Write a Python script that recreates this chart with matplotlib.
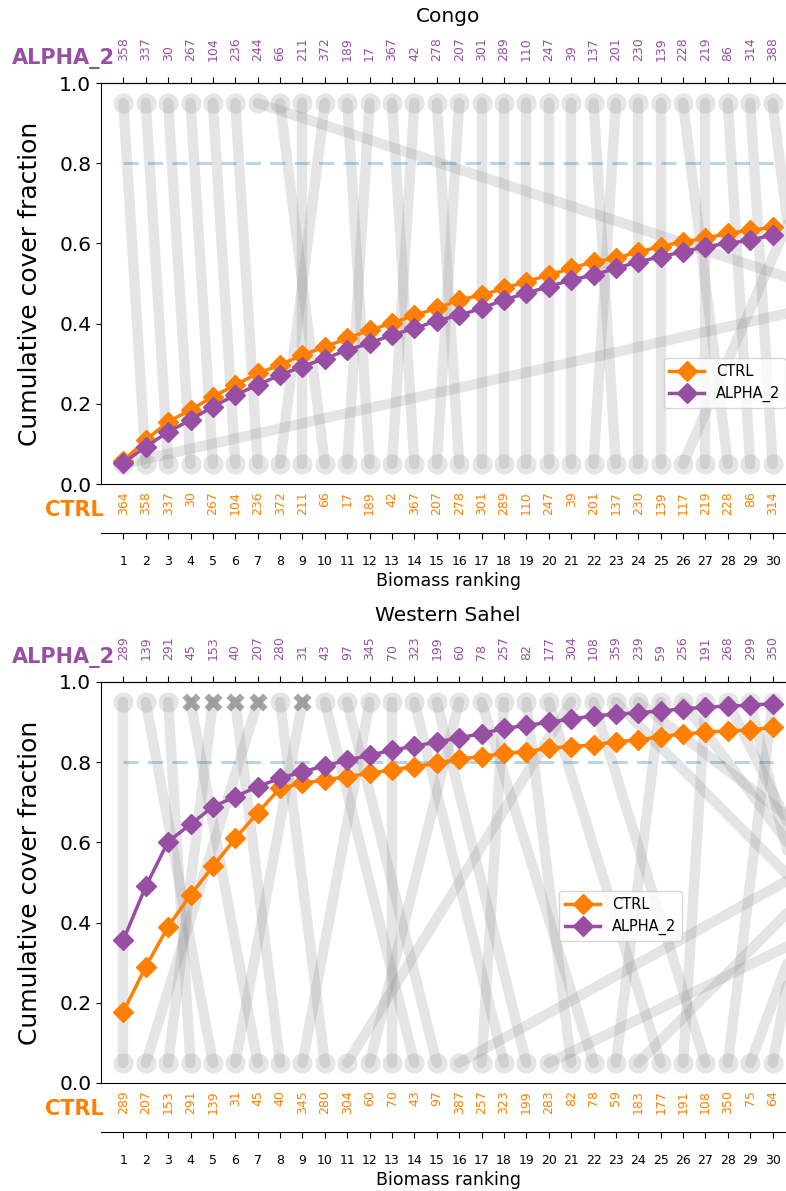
import matplotlib.pyplot as plt
import numpy as np

# ---- data ----
ranks = np.arange(1, 31)

congo_ctrl_ids = [364, 358, 337, 30, 267, 104, 236, 372, 211, 66, 17, 189, 42, 367, 207,
                  278, 301, 289, 110, 247, 39, 201, 137, 230, 139, 117, 219, 228, 86, 314]
congo_alpha_ids = [358, 337, 30, 267, 104, 236, 244, 66, 211, 372, 189, 17, 367, 42, 278,
                   207, 301, 289, 110, 247, 39, 137, 201, 230, 139, 228, 219, 86, 314, 388]
congo_ctrl_cover = [0.058, 0.110, 0.155, 0.185, 0.218, 0.247, 0.276, 0.297, 0.322, 0.342,
                    0.363, 0.384, 0.401, 0.421, 0.438, 0.459, 0.471, 0.488, 0.505, 0.521,
                    0.538, 0.554, 0.563, 0.579, 0.592, 0.604, 0.613, 0.625, 0.633, 0.640]
congo_alpha_cover = [0.053, 0.093, 0.130, 0.160, 0.193, 0.222, 0.247, 0.272, 0.293, 0.313,
                     0.334, 0.351, 0.372, 0.388, 0.407, 0.421, 0.438, 0.459, 0.476, 0.492,
                     0.509, 0.521, 0.538, 0.554, 0.567, 0.579, 0.592, 0.600, 0.608, 0.621]
# ranks beyond the top 30 in the other run
congo_ctrl_outside = {364: 72, 117: 33}
congo_alpha_outside = {244: 56, 388: 32}
congo_crossed = []

sahel_ctrl_ids = [289, 207, 153, 291, 139, 31, 45, 40, 345, 280, 304, 60, 70, 43, 97,
                  387, 257, 323, 199, 283, 82, 78, 59, 183, 177, 191, 108, 350, 75, 64]
sahel_alpha_ids = [289, 139, 291, 45, 153, 40, 207, 280, 31, 43, 97, 345, 70, 323, 199,
                   60, 78, 257, 82, 177, 304, 108, 359, 239, 59, 256, 191, 268, 299, 350]
sahel_ctrl_cover = [0.178, 0.290, 0.390, 0.469, 0.540, 0.610, 0.674, 0.735, 0.747, 0.756,
                    0.764, 0.772, 0.781, 0.789, 0.797, 0.808, 0.814, 0.822, 0.826, 0.835,
                    0.839, 0.843, 0.851, 0.855, 0.864, 0.870, 0.875, 0.878, 0.880, 0.887]
sahel_alpha_cover = [0.357, 0.490, 0.602, 0.645, 0.689, 0.714, 0.739, 0.760, 0.776, 0.791,
                     0.805, 0.817, 0.830, 0.840, 0.850, 0.861, 0.871, 0.884, 0.892, 0.899,
                     0.908, 0.915, 0.920, 0.923, 0.928, 0.933, 0.937, 0.940, 0.942, 0.946]
sahel_ctrl_outside = {387: 45, 283: 53, 183: 40, 75: 35, 64: 33}
sahel_alpha_outside = {359: 39, 239: 45, 256: 38, 268: 36, 299: 33}
sahel_crossed = [45, 153, 40, 207, 31]

ORANGE = "#ff7f00"
PURPLE = "#984ea3"


def draw_panel(ax, title, ctrl_ids, alpha_ids, ctrl_cover, alpha_cover,
               ctrl_out, alpha_out, crossed):
    y_lo, y_hi = 0.05, 0.95
    line_kw = dict(color="grey", alpha=0.2, lw=7.5, solid_capstyle="round", zorder=1)

    # grey connectors: CTRL rank (bottom) -> ALPHA_2 rank (top)
    for i, sid in enumerate(ctrl_ids, 1):
        j = alpha_ids.index(sid) + 1 if sid in alpha_ids else ctrl_out[sid]
        ax.plot([i, j], [y_lo, y_hi], **line_kw)
    for j, sid in enumerate(alpha_ids, 1):
        if sid not in ctrl_ids:
            ax.plot([alpha_out[sid], j], [y_lo, y_hi], **line_kw)

    ax.scatter(ranks, np.full(30, y_lo), s=210, color="grey", alpha=0.2, lw=0, zorder=1)
    keep = np.array([sid not in crossed for sid in alpha_ids])
    ax.scatter(ranks[keep], np.full(keep.sum(), y_hi), s=210, color="grey",
               alpha=0.2, lw=0, zorder=1)
    if (~keep).any():
        ax.scatter(ranks[~keep], np.full((~keep).sum(), y_hi), s=170, marker="X",
                   color="grey", alpha=0.7, lw=0, zorder=2)

    ax.plot([1, 30], [0.8, 0.8], ls=(0, (5, 3)), lw=2.2, color="#1f77b4", alpha=0.3, zorder=2)

    ax.plot(ranks, ctrl_cover, color=ORANGE, marker="D", ms=10, lw=2.5, label="CTRL", zorder=3)
    ax.plot(ranks, alpha_cover, color=PURPLE, marker="D", ms=10, lw=2.5, label="ALPHA_2", zorder=4)

    ax.set_xlim(0, 31)
    ax.set_ylim(0, 1)
    ax.set_yticks(np.arange(0, 1.01, 0.2))
    ax.tick_params(axis="y", labelsize=14.5)
    ax.set_ylabel("Cumulative cover fraction", fontsize=18, labelpad=12)

    # CTRL ids along the bottom
    ax.set_xticks(ranks)
    ax.set_xticklabels(ctrl_ids, rotation=90, color=ORANGE, fontsize=9)
    ax.tick_params(axis="x", length=0, pad=5)

    # ALPHA_2 ids along the top
    top = ax.secondary_xaxis("top")
    top.set_xticks(ranks)
    top.set_xticklabels(alpha_ids, rotation=90, color=PURPLE, fontsize=9)
    top.tick_params(axis="x", length=4, pad=12)

    # biomass ranking axis further below
    low = ax.secondary_xaxis(-0.122)
    low.set_xticks(ranks)
    low.set_xticklabels(ranks, fontsize=9)
    low.tick_params(axis="x", length=4, pad=12)
    low.set_xlabel("Biomass ranking", fontsize=12.5, labelpad=3)

    ax.text(0.02, 1.062, "ALPHA_2", transform=ax.transAxes, ha="right", va="center",
            fontsize=15, fontweight="bold", color=PURPLE)
    ax.text(0.004, -0.065, "CTRL", transform=ax.transAxes, ha="right", va="center",
            fontsize=15, fontweight="bold", color=ORANGE)
    ax.text(0.5, 1.152, title, transform=ax.transAxes, ha="center", va="baseline", fontsize=14.5)


fig = plt.figure(figsize=(7.86, 11.91), dpi=100)
ax1 = fig.add_axes([101 / 786, 0.5936, 694 / 786, 0.3367])
ax2 = fig.add_axes([101 / 786, 0.0907, 694 / 786, 0.3367])

draw_panel(ax1, "Congo", congo_ctrl_ids, congo_alpha_ids, congo_ctrl_cover,
           congo_alpha_cover, congo_ctrl_outside, congo_alpha_outside, congo_crossed)
draw_panel(ax2, "Western Sahel", sahel_ctrl_ids, sahel_alpha_ids, sahel_ctrl_cover,
           sahel_alpha_cover, sahel_ctrl_outside, sahel_alpha_outside, sahel_crossed)

ax1.legend(loc="center", bbox_to_anchor=(0.899, 0.252), fontsize=10.5, handlelength=2.4)
ax2.legend(loc="center", bbox_to_anchor=(0.749, 0.416), fontsize=10.5, handlelength=2.4)

fig.savefig("out.png", dpi=100)
